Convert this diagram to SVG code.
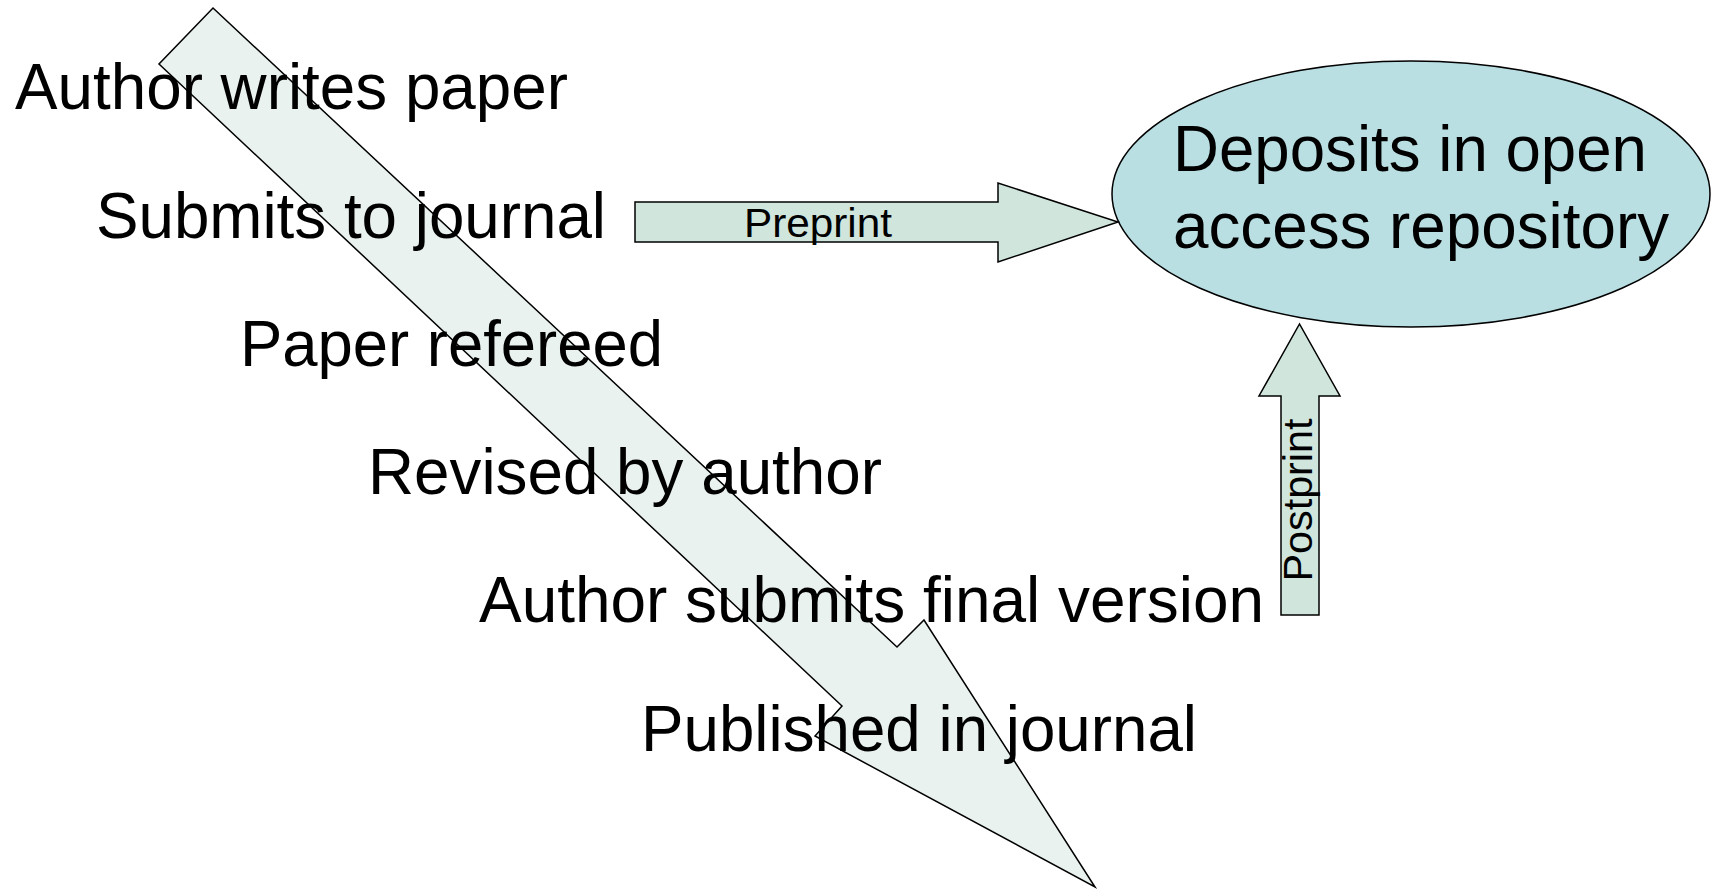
<svg xmlns="http://www.w3.org/2000/svg" width="1711" height="890" viewBox="0 0 1711 890">
<style>
.step{font-family:"Liberation Sans",Arial,sans-serif;font-size:64px;fill:#000}
.lbl{font-family:"Liberation Sans",Arial,sans-serif;font-size:41px;fill:#000}
.big{fill:#E9F2EE;stroke:#000;stroke-width:1.5}
.arr{fill:#D0E5DC;stroke:#000;stroke-width:1.5}
</style>
<rect width="1711" height="890" fill="#fff"/>
<g id="flow-arrow">
<polygon class="big" points="213,8 897,647 924,620 1095,887 815,736 842,706 159,64"/>
</g>
<g id="steps">
<text class="step" x="15" y="109" textLength="553" lengthAdjust="spacingAndGlyphs">Author writes paper</text>
<text class="step" x="96" y="238" textLength="510" lengthAdjust="spacingAndGlyphs">Submits to journal</text>
<text class="step" x="240" y="366" textLength="423" lengthAdjust="spacingAndGlyphs">Paper refereed</text>
<text class="step" x="368" y="494" textLength="514" lengthAdjust="spacingAndGlyphs">Revised by author</text>
<text class="step" x="479" y="622" textLength="785" lengthAdjust="spacingAndGlyphs">Author submits final version</text>
<text class="step" x="641" y="751" textLength="556" lengthAdjust="spacingAndGlyphs">Published in journal</text>
</g>
<g id="repository">
<ellipse cx="1411" cy="194" rx="299" ry="133" fill="#B9DFE3" stroke="#000" stroke-width="1.5"/>
<text class="step" x="1173" y="171" textLength="474" lengthAdjust="spacingAndGlyphs">Deposits in open</text>
<text class="step" x="1173" y="248" textLength="496" lengthAdjust="spacingAndGlyphs">access repository</text>
</g>
<g id="connectors">
<g id="preprint">
<polygon class="arr" points="635,202 998,202 998,183 1118,222 998,262 998,242 635,242"/>
<text class="lbl" x="744" y="237" textLength="148" lengthAdjust="spacingAndGlyphs">Preprint</text>
</g>
<g id="postprint">
<polygon class="arr" points="1281,615 1281,396 1259,396 1299.5,324 1340,396 1319,396 1319,615"/>
<text class="lbl" transform="translate(1312,500) rotate(-90)" text-anchor="middle" textLength="163" lengthAdjust="spacingAndGlyphs">Postprint</text>
</g>
</g>
</svg>
